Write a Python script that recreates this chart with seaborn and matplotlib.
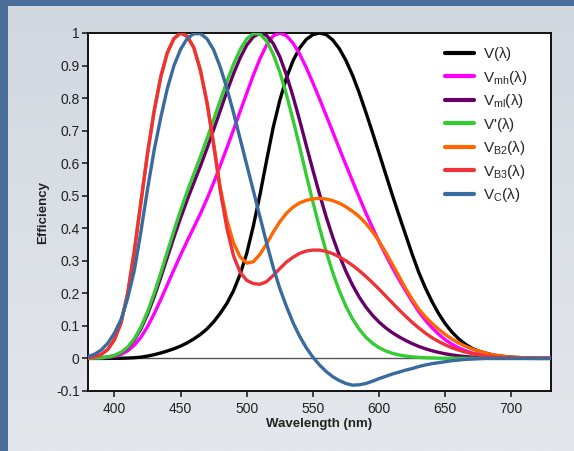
import numpy as np
import pandas as pd
import matplotlib
matplotlib.use("Agg")
import matplotlib.pyplot as plt
import seaborn as sns
from matplotlib.colors import LinearSegmentedColormap
from matplotlib.lines import Line2D

wavelength = list(range(380, 731, 5))

v_photopic = [0.00004, 0.00006, 0.00012, 0.00022, 0.0004, 0.00064, 0.00121, 0.00218, 0.004, 0.0073,
              0.0116, 0.01684, 0.023, 0.0298, 0.038, 0.048, 0.06, 0.0739, 0.091, 0.1126,
              0.139, 0.1693, 0.208, 0.2586, 0.323, 0.4073, 0.503, 0.6082, 0.71, 0.7932,
              0.862, 0.9149, 0.954, 0.9803, 0.995, 1.0, 0.995, 0.9786, 0.952, 0.9154,
              0.87, 0.8163, 0.757, 0.6949, 0.631, 0.5668, 0.503, 0.4412, 0.381, 0.321,
              0.265, 0.217, 0.175, 0.1382, 0.107, 0.0816, 0.061, 0.0446, 0.032, 0.0232,
              0.017, 0.0119, 0.0082, 0.0057, 0.0041, 0.0029, 0.0021, 0.0015, 0.001, 0.0007, 0.0005]

v_mh = [0.0004, 0.0008, 0.0015, 0.0031, 0.0063, 0.0125, 0.0234, 0.0407, 0.0653, 0.0978,
        0.1369, 0.1807, 0.2269, 0.273, 0.3179, 0.3612, 0.4029, 0.445, 0.4908, 0.5402,
        0.593, 0.6472, 0.7025, 0.759, 0.815, 0.8706, 0.9211, 0.9631, 0.9914, 0.9999,
        0.9916, 0.9688, 0.9355, 0.8934, 0.8469, 0.7979, 0.7473, 0.6962, 0.6451, 0.5945,
        0.5448, 0.4955, 0.4478, 0.4025, 0.3593, 0.3183, 0.2795, 0.2431, 0.2086, 0.175,
        0.144, 0.1176, 0.0946, 0.0746, 0.0576, 0.044, 0.0328, 0.024, 0.0172, 0.0125,
        0.0091, 0.0064, 0.0044, 0.0031, 0.0022, 0.0016, 0.0011, 0.0008, 0.0006, 0.0004, 0.0003]

v_ml = [0.0006, 0.0011, 0.0021, 0.0043, 0.0088, 0.0175, 0.0328, 0.0569, 0.0911, 0.1357,
        0.1889, 0.2484, 0.3108, 0.3726, 0.4317, 0.4874, 0.5396, 0.5911, 0.6459, 0.703,
        0.7618, 0.8201, 0.8747, 0.9234, 0.9626, 0.9884, 0.9997, 0.9925, 0.968, 0.9271,
        0.8711, 0.8047, 0.7318, 0.6545, 0.5785, 0.5051, 0.4357, 0.3728, 0.3165, 0.2674,
        0.225, 0.1887, 0.1583, 0.1329, 0.1118, 0.0942, 0.0793, 0.0666, 0.0556, 0.0457,
        0.037, 0.0299, 0.0238, 0.0186, 0.0143, 0.0109, 0.0081, 0.0059, 0.0042, 0.0031,
        0.0022, 0.0015, 0.0011, 0.0007, 0.0005, 0.0004, 0.0003, 0.0002, 0.0001, 0.0001, 0.0001]

v_scotopic = [0.0006, 0.0011, 0.0022, 0.0045, 0.0093, 0.0185, 0.0348, 0.0604, 0.0966, 0.1436,
              0.1998, 0.2625, 0.3281, 0.3931, 0.455, 0.513, 0.567, 0.62, 0.676, 0.734,
              0.793, 0.851, 0.904, 0.949, 0.982, 0.998, 0.997, 0.975, 0.935, 0.88,
              0.811, 0.733, 0.65, 0.564, 0.481, 0.402, 0.3288, 0.2639, 0.2076, 0.1602,
              0.1212, 0.0899, 0.0655, 0.0469, 0.0332, 0.0231, 0.0159, 0.0109, 0.0074, 0.005,
              0.0033, 0.0022, 0.0015, 0.001, 0.0007, 0.0005, 0.0003, 0.0002, 0.0001, 0.0001,
              0.0001, 0.0, 0.0, 0.0, 0.0, 0.0, 0.0, 0.0, 0.0, 0.0, 0.0]

v_b2 = [0.002, 0.005, 0.012, 0.028, 0.058, 0.11, 0.2, 0.33, 0.48, 0.63,
        0.76, 0.865, 0.94, 0.983, 1.0, 0.99, 0.955, 0.885, 0.785, 0.66,
        0.525, 0.425, 0.355, 0.312, 0.293, 0.297, 0.32, 0.352, 0.388, 0.42,
        0.446, 0.465, 0.478, 0.486, 0.49, 0.492, 0.49, 0.485, 0.477, 0.466,
        0.452, 0.436, 0.415, 0.39, 0.36, 0.326, 0.29, 0.253, 0.216, 0.182,
        0.152, 0.128, 0.108, 0.09, 0.074, 0.06, 0.048, 0.038, 0.03, 0.023,
        0.017, 0.012, 0.009, 0.006, 0.004, 0.003, 0.002, 0.0014, 0.001, 0.0007, 0.0005]

v_b3 = [0.002, 0.005, 0.012, 0.028, 0.058, 0.11, 0.2, 0.33, 0.48, 0.63,
        0.76, 0.865, 0.94, 0.983, 1.0, 0.99, 0.955, 0.885, 0.785, 0.655,
        0.515, 0.4, 0.315, 0.265, 0.24, 0.23, 0.228, 0.236, 0.255, 0.276,
        0.296, 0.311, 0.323, 0.33, 0.333, 0.333, 0.329, 0.322, 0.312, 0.3,
        0.286, 0.27, 0.252, 0.233, 0.213, 0.192, 0.171, 0.15, 0.13, 0.111,
        0.094, 0.078, 0.064, 0.052, 0.042, 0.033, 0.026, 0.02, 0.015, 0.011,
        0.008, 0.006, 0.004, 0.003, 0.002, 0.0015, 0.001, 0.0007, 0.0005, 0.0003, 0.0002]

v_c = [0.006, 0.013, 0.026, 0.047, 0.078, 0.12, 0.185, 0.27, 0.39, 0.52,
       0.64, 0.74, 0.83, 0.9, 0.95, 0.983, 0.998, 0.998, 0.982, 0.948,
       0.895, 0.83, 0.755, 0.675, 0.595, 0.515, 0.435, 0.355, 0.28, 0.215,
       0.16, 0.11, 0.068, 0.033, 0.004, -0.02, -0.04, -0.056, -0.068, -0.077,
       -0.082, -0.081, -0.077, -0.07, -0.062, -0.055, -0.048, -0.042, -0.036, -0.031,
       -0.025, -0.02, -0.016, -0.013, -0.01, -0.007, -0.005, -0.003, -0.002, -0.001,
       0.0, 0.0, 0.0, 0.0, 0.0, 0.0, 0.0, 0.0, 0.0, 0.0, 0.0]

series_labels = [r"V($\lambda$)", r"V$_{\mathrm{mh}}$($\lambda$)", r"V$_{\mathrm{ml}}$($\lambda$)",
                 r"V'($\lambda$)", r"V$_{\mathrm{B2}}$($\lambda$)", r"V$_{\mathrm{B3}}$($\lambda$)",
                 r"V$_{\mathrm{C}}$($\lambda$)"]
series_values = [v_photopic, v_mh, v_ml, v_scotopic, v_b2, v_b3, v_c]
colors = ["#000000", "#ff00ff", "#660066", "#33cc33", "#ff6600", "#ee3338", "#3a6b9e"]

y_ticks = [-0.1, 0, 0.1, 0.2, 0.3, 0.4, 0.5, 0.6, 0.7, 0.8, 0.9, 1]
x_ticks = [400, 450, 500, 550, 600, 650, 700]

rows = []
for lab, vals in zip(series_labels, series_values):
    for w, v in zip(wavelength, vals):
        rows.append({"wl": w, "eff": v, "series": lab})
df = pd.DataFrame(rows)

sns.set_style("white")
plt.rcParams["font.family"] = ["Liberation Sans", "DejaVu Sans"]
plt.rcParams["mathtext.fontset"] = "custom"
plt.rcParams["mathtext.rm"] = "Liberation Sans"
plt.rcParams["mathtext.it"] = "Liberation Sans"

fig = plt.figure(figsize=(5.74, 4.51), dpi=100)
fig.patch.set_facecolor("#4a6d99")

bg = fig.add_axes([8 / 574, 0, 1 - 8 / 574, 1 - 6 / 451])
grad = np.linspace(0, 1, 256).reshape(-1, 1)
cmap = LinearSegmentedColormap.from_list("g", ["#d2d8e0", "#e4e7ec"])
bg.imshow(grad, aspect="auto", cmap=cmap, extent=[0, 1, 0, 1], origin="upper")
bg.set_axis_off()

ax = fig.add_axes([88 / 574, (451 - 391) / 451, 463 / 574, 358 / 451])
ax.set_facecolor("white")
ax.axhline(0, color="#555555", linewidth=1.0, zorder=1)

sns.lineplot(data=df, x="wl", y="eff", hue="series", palette=dict(zip(series_labels, colors)),
             hue_order=series_labels, linewidth=2.4, ax=ax, legend=False, zorder=3)

ax.set_xlim(380, 730)
ax.set_ylim(-0.1, 1.0)
ax.set_xticks(x_ticks)
ax.set_xticklabels([str(t) for t in x_ticks])
ax.set_yticks(y_ticks)
ax.set_yticklabels(["%g" % t for t in y_ticks])
ax.tick_params(axis="both", direction="out", length=4, width=1.2, labelsize=10,
               colors="#222222", left=True, bottom=True, top=False, right=False)
ax.tick_params(axis="x", pad=4)
ax.tick_params(axis="y", pad=2)
for sp in ax.spines.values():
    sp.set_color("#111111")
    sp.set_linewidth(1.4)
ax.set_xlabel("Wavelength (nm)", fontsize=9.5, fontweight="bold", labelpad=1.5, color="#222222")
ax.set_ylabel("Efficiency", fontsize=9.5, fontweight="bold", labelpad=5, color="#222222")

handles = [Line2D([0], [0], color=c, linewidth=3) for c in colors]
leg = ax.legend(handles, series_labels, loc="upper left", bbox_to_anchor=(0.77, 0.966),
                frameon=False, fontsize=11, handlelength=1.9, handletextpad=0.65,
                labelspacing=0.36, borderpad=0, borderaxespad=0)

fig.savefig("out.png", dpi=100, facecolor=fig.get_facecolor())
